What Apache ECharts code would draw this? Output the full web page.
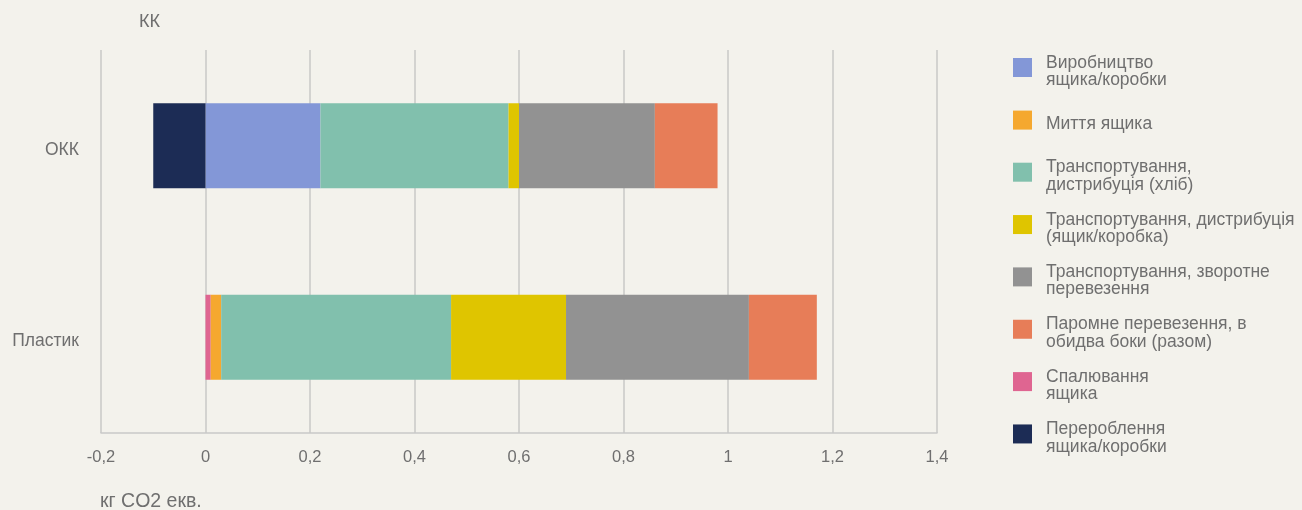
<!DOCTYPE html>
<html>
<head>
<meta charset="utf-8">
<script src="https://cdn.jsdelivr.net/npm/echarts@6/dist/echarts.min.js"></script>
<style>
  html, body { margin: 0; padding: 0; background: #f3f2ec; }
  #chart { width: 1302px; height: 510px; }
</style>
</head>
<body>
<div id="chart"></div>
<script>
// Categories (bottom to top on the y axis)
const categories = ['Пластик', 'ОКК'];

// Emissions per stage, kg CO2 eq. — [Пластик, ОКК]
const incineration   = [0.01, null];
const washing        = [0.02, null];
const production     = [null, 0.22];
const transportBread = [0.44, 0.36];
const transportBox   = [0.22, 0.02];
const returnTransport= [0.35, 0.26];
const ferry          = [0.13, 0.12];
const recycling      = [null, -0.10];

// Series names (legend text)
const nProduction = 'Виробництво\nящика/коробки';
const nWashing    = 'Миття ящика';
const nBread      = 'Транспортування,\nдистрибуція (хліб)';
const nBox        = 'Транспортування, дистрибуція\n(ящик/коробка)';
const nReturn     = 'Транспортування, зворотне\nперевезення';
const nFerry      = 'Паромне перевезення, в\nобидва боки (разом)';
const nIncin      = 'Спалювання\nящика';
const nRecycle    = 'Перероблення\nящика/коробки';

// X axis ticks
const xMin = -0.2, xMax = 1.4, xStep = 0.2;

const FONT = '"Liberation Sans", Arial, sans-serif';
const TEXT = '#6f6f6f';
const GRID = '#c9c9c7';

// Stack order from the zero line outward
const stackSeries = [
  { name: nIncin,      data: incineration,    color: '#df6591' },
  { name: nWashing,    data: washing,         color: '#f5a82f' },
  { name: nProduction, data: production,      color: '#8397d7' },
  { name: nBread,      data: transportBread,  color: '#81c0ad' },
  { name: nBox,        data: transportBox,    color: '#dfc500' },
  { name: nReturn,     data: returnTransport, color: '#929292' },
  { name: nFerry,      data: ferry,           color: '#e77d58' },
  { name: nRecycle,    data: recycling,       color: '#1c2c55' }
];

// Legend order
const legendOrder = [nProduction, nWashing, nBread, nBox, nReturn, nFerry, nIncin, nRecycle];

// Each legend entry is its own component so the rows sit on an even pitch.
// A thin spacer line above the text nudges the label block slightly below the swatch centre.
const legendStart = 71, legendStep = 52.35, lineH = 17.5, spacerH = 8;
const legends = legendOrder.map((name, i) => {
  const lines = name.split('\n');
  const h = Math.max(19, lines.length * lineH + spacerH);
  return {
    data: [name],
    left: 1013,
    top: legendStart + i * legendStep - h / 2,
    orient: 'vertical',
    padding: 0,
    icon: 'rect',
    itemWidth: 19,
    itemHeight: 19,
    selectedMode: false,
    formatter: n => '{sp| }\n' + n.split('\n').map(l => '{t|' + l + '}').join('\n'),
    textStyle: {
      color: TEXT,
      fontFamily: FONT,
      fontSize: 17.5,
      padding: [0, 0, 0, 9],
      rich: {
        sp: { fontSize: 1, lineHeight: spacerH },
        t: { color: TEXT, fontFamily: FONT, fontSize: 17.5, lineHeight: lineH }
      }
    }
  };
});

const chart = echarts.init(document.getElementById('chart'), null, { renderer: 'canvas' });
chart.setOption({
  backgroundColor: '#f3f2ec',
  animation: false,
  textStyle: { fontFamily: FONT },
  title: [
    { text: 'КК', left: 139, top: 13, padding: 0,
      textStyle: { color: TEXT, fontFamily: FONT, fontSize: 18, fontWeight: 'normal' } },
    { text: 'кг CO2 екв.', left: 100, top: 492, padding: 0,
      textStyle: { color: TEXT, fontFamily: FONT, fontSize: 19.5, fontWeight: 'normal' } }
  ],
  legend: legends,
  grid: { left: 101, right: 365, top: 50, bottom: 77, containLabel: false },
  xAxis: {
    type: 'value',
    min: xMin, max: xMax, interval: xStep,
    axisLine: { show: true, lineStyle: { color: GRID, width: 1.5 } },
    axisTick: { show: false },
    splitLine: { show: true, lineStyle: { color: GRID, width: 1.5 } },
    axisLabel: {
      color: TEXT, fontFamily: FONT, fontSize: 16.5, margin: 16,
      formatter: v => String(Math.round(v * 10) / 10).replace('.', ',')
    }
  },
  yAxis: {
    type: 'category',
    data: categories,
    axisLine: { show: false },
    axisTick: { show: false },
    splitLine: { show: false },
    axisLabel: {
      color: TEXT, fontFamily: FONT, fontSize: 17.5, margin: 22,
      verticalAlign: 'top', lineHeight: 8
    }
  },
  series: stackSeries.map(s => ({
    type: 'bar',
    name: s.name,
    stack: 'total',
    data: s.data,
    barWidth: 85,
    itemStyle: { color: s.color },
    emphasis: { disabled: true }
  }))
});
</script>
</body>
</html>
